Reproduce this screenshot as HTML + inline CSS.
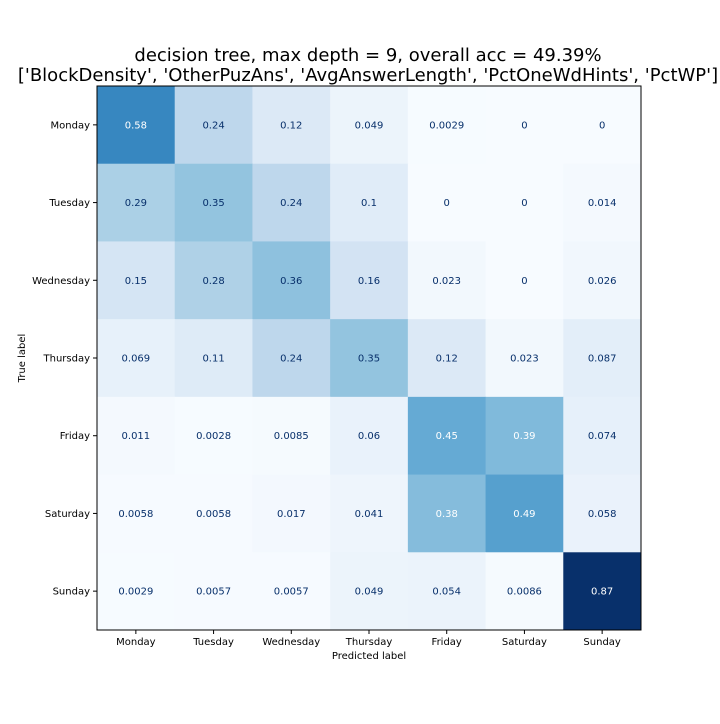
<!DOCTYPE html>
<html><head><meta charset="utf-8">
<style>
body{margin:0;background:#fff;font-family:"DejaVu Sans","Liberation Sans",sans-serif;}
svg text{font-family:"DejaVu Sans","Liberation Sans",sans-serif;}
</style></head>
<body>
<svg id="chart" width="720" height="720">
<rect width="720" height="720" fill="#fff"/>
<text x="368" y="61" font-size="18" text-anchor="middle">decision tree, max depth = 9, overall acc = 49.39%</text>
<text x="368" y="81" font-size="18" text-anchor="middle">['BlockDensity', 'OtherPuzAns', 'AvgAnswerLength', 'PctOneWdHints', 'PctWP']</text>
<g id="cells"></g>
<rect x="97" y="86" width="544" height="544" fill="none" stroke="#000" stroke-width="1"/>
<g id="ticks"></g>
<text x="369" y="659" font-size="10" text-anchor="middle">Predicted label</text>
<text x="25" y="358" font-size="10" text-anchor="middle" transform="rotate(-90 25 358)">True label</text>
</svg>
<script>
const categories=["Monday","Tuesday","Wednesday","Thursday","Friday","Saturday","Sunday"];
const row0=[0.58,0.24,0.12,0.049,0.0029,0,0];
const row1=[0.29,0.35,0.24,0.1,0,0,0.014];
const row2=[0.15,0.28,0.36,0.16,0.023,0,0.026];
const row3=[0.069,0.11,0.24,0.35,0.12,0.023,0.087];
const row4=[0.011,0.0028,0.0085,0.06,0.45,0.39,0.074];
const row5=[0.0058,0.0058,0.017,0.041,0.38,0.49,0.058];
const row6=[0.0029,0.0057,0.0057,0.049,0.054,0.0086,0.87];
const matrix=[row0,row1,row2,row3,row4,row5,row6];
function fmt(v){return String(v);}
const NS="http://www.w3.org/2000/svg";
const X0=97,Y0=86,W=544,H=544;
const n=categories.length, cw=W/n, ch=H/n;
const xPos=i=>X0+i*cw, yPos=i=>Y0+i*ch;
let vmax=0;matrix.forEach(r=>r.forEach(v=>{if(v>vmax)vmax=v;}));
const stops=["#f7fbff","#deebf7","#c6dbef","#9ecae1","#6baed6","#4292c6","#2171b5","#08519c","#08306b"];
function hex(h){return [1,3,5].map(k=>parseInt(h.substr(k,2),16));}
function blues(t){t=Math.max(0,Math.min(1,t));const p=t*8,i=Math.min(7,Math.floor(p)),f=p-i;
const a=hex(stops[i]),b=hex(stops[i+1]);return "rgb("+a.map((v,k)=>Math.round(v+(b[k]-v)*f)).join(",")+")";}
const cells=document.getElementById("cells");
matrix.forEach((r,i)=>r.forEach((v,j)=>{
const rc=document.createElementNS(NS,"rect");
rc.setAttribute("x",xPos(j));rc.setAttribute("y",yPos(i));
rc.setAttribute("width",cw+0.5);rc.setAttribute("height",ch+0.5);
rc.setAttribute("fill",blues(v/vmax));


cells.appendChild(rc);
const t=document.createElementNS(NS,"text");
t.setAttribute("x",xPos(j)+cw/2);t.setAttribute("y",yPos(i)+ch/2+3.5);
t.setAttribute("text-anchor","middle");t.setAttribute("font-size","10");
t.setAttribute("fill",v>0.37?"#ffffff":"#08306b");
t.textContent=fmt(v);


cells.appendChild(t);
}));
const ticks=document.getElementById("ticks");
categories.forEach((c,i)=>{
const cx=xPos(i)+cw/2, cy=yPos(i)+ch/2;
const l1=document.createElementNS(NS,"line");
l1.setAttribute("x1",cx);l1.setAttribute("x2",cx);l1.setAttribute("y1",630);l1.setAttribute("y2",634);l1.setAttribute("stroke","#000");


ticks.appendChild(l1);
const t1=document.createElementNS(NS,"text");
t1.setAttribute("x",cx);t1.setAttribute("y",645);t1.setAttribute("text-anchor","middle");t1.setAttribute("font-size","10");
t1.textContent=c;


ticks.appendChild(t1);
const l2=document.createElementNS(NS,"line");
l2.setAttribute("x1",93);l2.setAttribute("x2",97);l2.setAttribute("y1",cy);l2.setAttribute("y2",cy);l2.setAttribute("stroke","#000");


ticks.appendChild(l2);
const t2=document.createElementNS(NS,"text");
t2.setAttribute("x",90);t2.setAttribute("y",cy+3.5);t2.setAttribute("text-anchor","end");t2.setAttribute("font-size","10");
t2.textContent=c;


ticks.appendChild(t2);
});
</script>
</body></html>
